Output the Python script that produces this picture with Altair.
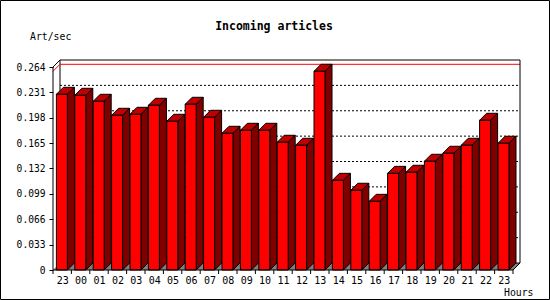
import json
import altair as alt
import pandas as pd

# ---------------- data ----------------
hours = ["23", "00", "01", "02", "03", "04", "05", "06", "07", "08", "09", "10",
         "11", "12", "13", "14", "15", "16", "17", "18", "19", "20", "21", "22", "23"]
values = [0.2285, 0.2272, 0.2194, 0.2012, 0.2025, 0.2142, 0.1934, 0.2155, 0.1986,
          0.1778, 0.1817, 0.1817, 0.1661, 0.1622, 0.2584, 0.1166, 0.1037, 0.0893,
          0.1257, 0.1271, 0.1414, 0.1518, 0.1622, 0.1947, 0.1648]
y_ticks = [0, 0.033, 0.066, 0.099, 0.132, 0.165, 0.198, 0.231, 0.264]
title_text = "Incoming articles"
y_title = "Art/sec"
x_title = "Hours"

# ---------------- layout (pixels) ----------------
PAD_L, PAD_T = 53, 60
W, H = 470, 210
PITCH = 18.4          # px per bar slot
DEPTH = 7             # 3D depth in px
FRONT_OFF = 3.4       # px from slot start to front face
FRONT_W = 11          # front face width px
Y_PX = 203 / y_ticks[-1]   # px per unit on y

FONT = "DejaVu Sans Mono"
RED, TOP, SIDE, FLOOR = "#FF0000", "#C00000", "#800000", "#808080"

n = len(values)
dx = DEPTH / PITCH
dy = DEPTH / Y_PX
off = FRONT_OFF / PITCH
fw = FRONT_W / PITCH
xs = alt.Scale(domain=[0, W / PITCH], nice=False, zero=False)
ys = alt.Scale(domain=[0, H / Y_PX], nice=False, zero=False)
ytop = y_ticks[-1]

label_expr = json.dumps(hours) + "[floor(datum.value)]"
AX_X = alt.Axis(
    values=[i + 0.5 for i in range(n)], labelExpr=label_expr, ticks=False,
    domain=False, grid=False, title=None, labelFont=FONT, labelFontSize=10,
    labelColor="black", labelPadding=5, labelFlush=False, labelOverlap=False)
AX_Y = alt.Axis(
    values=y_ticks, labelExpr="datum.value == 0 ? '0' : format(datum.value, '.3f')",
    domain=False, grid=False, title=None, tickSize=4, tickColor="black",
    labelFont=FONT, labelFontSize=9.6, labelColor="black", labelPadding=4)

# ---------------- derived tables ----------------
front = pd.DataFrame({
    "x0": [i + off for i in range(n)],
    "x1": [i + off + fw for i in range(n)],
    "v": values,
    "zero": [0.0] * n,
})

top_rows, side_rows = [], []
for i, v in enumerate(values):
    x0 = i + off
    x1 = x0 + fw
    top_rows += [
        {"id": i, "u": x0, "y": v, "y2": v},
        {"id": i, "u": x0 + dx, "y": v + dy, "y2": v},
        {"id": i, "u": x1, "y": v + dy, "y2": v},
        {"id": i, "u": x1 + dx, "y": v + dy, "y2": v + dy},
    ]
    side_rows += [
        {"id": i, "u": x1, "y": v, "y2": 0},
        {"id": i, "u": x1 + dx, "y": v + dy, "y2": dy},
    ]
tops = pd.DataFrame(top_rows)
sides = pd.DataFrame(side_rows)

floor = pd.DataFrame([
    {"u": 0, "y": 0, "y2": 0},
    {"u": dx, "y": dy, "y2": 0},
    {"u": n, "y": dy, "y2": 0},
    {"u": n + dx, "y": dy, "y2": dy},
])

grid = pd.DataFrame({"x": dx, "x2": n + dx, "y": [t + dy for t in y_ticks[1:-1]]})

back_lines = pd.DataFrame([
    {"x": dx, "y": dy, "x2": dx, "y2": ytop + dy},      # back-left wall
    {"x": dx, "y": dy, "x2": n + dx, "y2": dy},         # back floor edge
])
vmax = max(values)
max_line = pd.DataFrame([
    {"x": dx, "y": vmax + dy, "x2": n + dx, "y2": vmax + dy},
    {"x": 0, "y": vmax, "x2": dx, "y2": vmax + dy},
])
front_lines = pd.DataFrame([
    {"x": 0, "y": 0, "x2": 0, "y2": ytop},
    {"x": 0, "y": ytop, "x2": dx, "y2": ytop + dy},
    {"x": dx, "y": ytop + dy, "x2": n + dx, "y2": ytop + dy},
    {"x": n + dx, "y": ytop + dy, "x2": n + dx, "y2": dy},
    {"x": n, "y": 0, "x2": n + dx, "y2": dy},
    {"x": 0, "y": 0, "x2": n, "y2": 0},
])
xticks = pd.DataFrame({"x": list(range(n + 1))})
one = pd.DataFrame({"a": [0]})


def X(f):
    return alt.X(f, scale=xs, axis=AX_X)


def Y(f):
    return alt.Y(f, scale=ys, axis=AX_Y)


grid_l = alt.Chart(grid).mark_rule(color="black", strokeWidth=1, strokeDash=[2, 2]).encode(
    x=X("x:Q"), x2="x2:Q", y=Y("y:Q"))

floor_l = alt.Chart(floor).mark_area(color=FLOOR).encode(
    x=X("u:Q"), y=Y("y:Q"), y2="y2:Q")

back_l = alt.Chart(back_lines).mark_rule(color="black", strokeWidth=1).encode(
    x=X("x:Q"), x2="x2:Q", y=Y("y:Q"), y2="y2:Q")

max_l = alt.Chart(max_line).mark_rule(color="#FF0000", strokeWidth=1).encode(
    x=X("x:Q"), x2="x2:Q", y=Y("y:Q"), y2="y2:Q")

top_l = alt.Chart(tops).mark_area(color=TOP, stroke="black", strokeWidth=1, opacity=1).encode(
    x=X("u:Q"), y=Y("y:Q"), y2="y2:Q", detail="id:N")

side_l = alt.Chart(sides).mark_area(color=SIDE, stroke="black", strokeWidth=1, opacity=1).encode(
    x=X("u:Q"), y=Y("y:Q"), y2="y2:Q", detail="id:N")

front_l = alt.Chart(front).mark_rect(color=RED, stroke="black", strokeWidth=1).encode(
    x=X("x0:Q"), x2="x1:Q", y=Y("v:Q"), y2="zero:Q")

frame_l = alt.Chart(front_lines).mark_rule(color="black", strokeWidth=1).encode(
    x=X("x:Q"), x2="x2:Q", y=Y("y:Q"), y2="y2:Q")

xtick_l = alt.Chart(xticks).mark_rule(color="black", strokeWidth=1).encode(
    x=X("x:Q"), y=alt.value(H), y2=alt.value(H + 4))

title_l = alt.Chart(one).mark_text(
    text=title_text, font=FONT, fontSize=11.5, fontWeight="bold", align="center",
    baseline="middle", color="black").encode(x=alt.value(274 - PAD_L), y=alt.value(27 - PAD_T))

ytitle_l = alt.Chart(one).mark_text(
    text=y_title, font=FONT, fontSize=9.8, align="left", baseline="middle",
    color="black").encode(x=alt.value(30 - PAD_L), y=alt.value(37 - PAD_T))

xtitle_l = alt.Chart(one).mark_text(
    text=x_title, font=FONT, fontSize=9.8, align="left", baseline="middle",
    color="black").encode(x=alt.value(504 - PAD_L), y=alt.value(293 - PAD_T))

border_l = alt.Chart(one).mark_rect(fillOpacity=0, stroke="black", strokeWidth=1).encode(
    x=alt.value(0.5 - PAD_L), x2=alt.value(549.5 - PAD_L),
    y=alt.value(0.5 - PAD_T), y2=alt.value(299.5 - PAD_T))

chart = alt.layer(
    grid_l, floor_l, back_l, max_l, top_l, side_l, front_l, frame_l, xtick_l,
    title_l, ytitle_l, xtitle_l, border_l,
).properties(
    width=W, height=H,
    autosize=alt.AutoSizeParams(type="none"),
    padding={"left": PAD_L, "top": PAD_T, "right": 550 - PAD_L - W, "bottom": 300 - PAD_T - H},
    background="white",
).configure_view(stroke=None)

chart.save("out.html", embed_options={"renderer": "svg", "actions": False})
